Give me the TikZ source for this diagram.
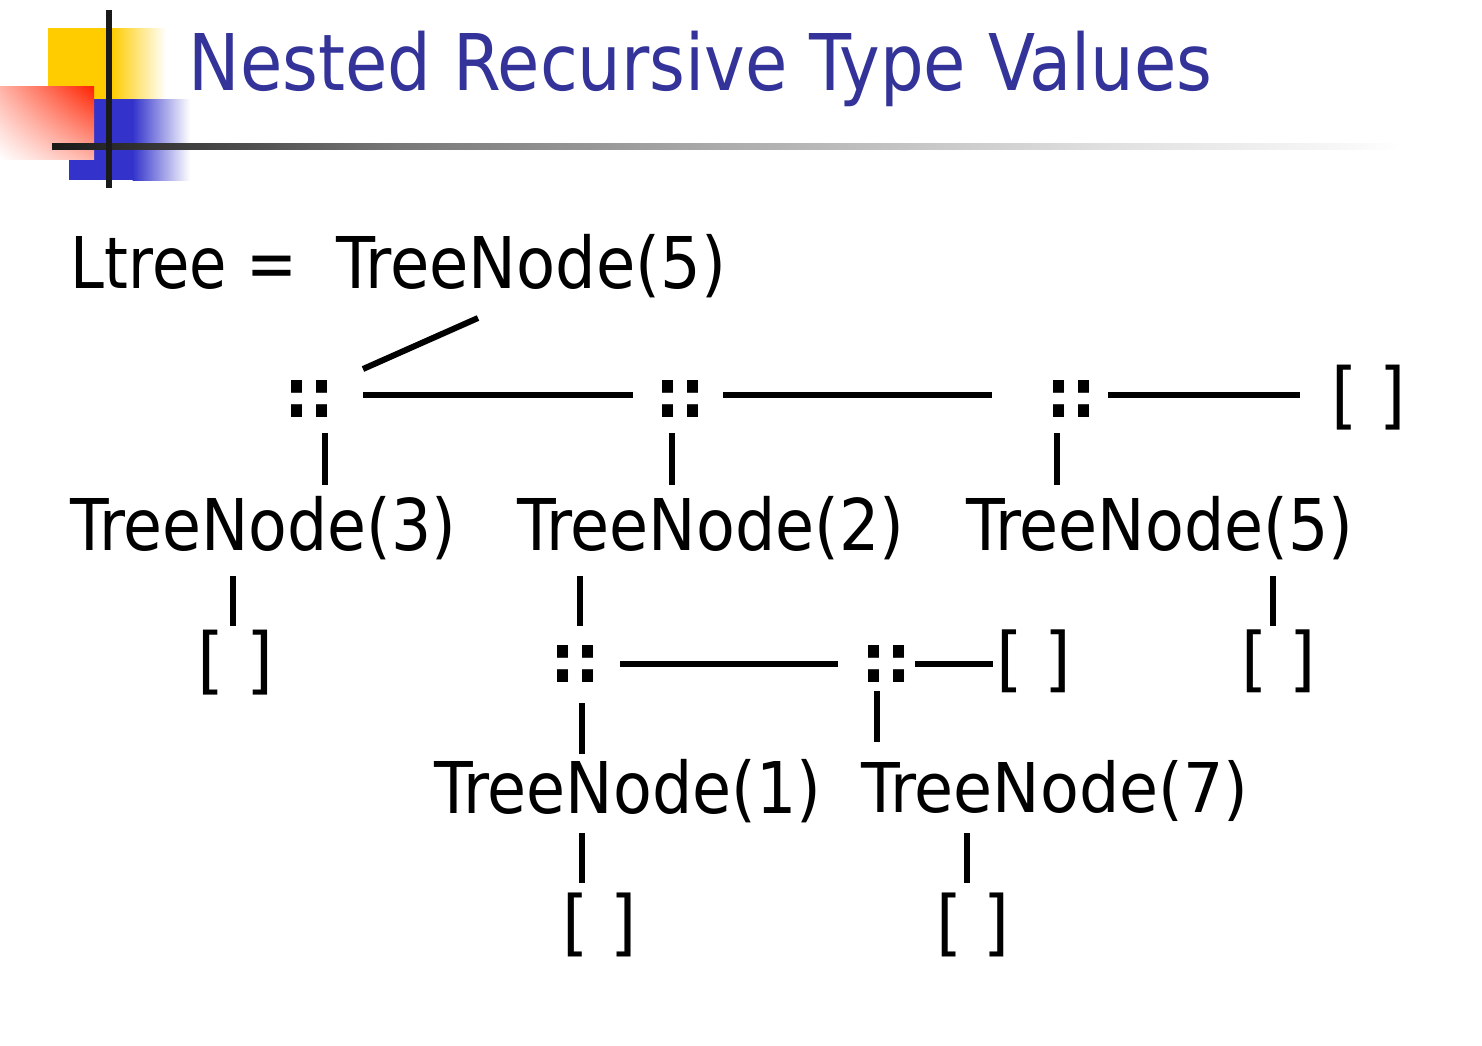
\documentclass[tikz,border=0pt]{standalone}
\usepackage{fontspec}
\usepackage{graphicx}
\usetikzlibrary{shadings}
\setmainfont{DejaVu Sans}
\newfontfamily\cf{DejaVu Sans Condensed}
\definecolor{titleblue}{HTML}{333399}
\definecolor{yelc}{HTML}{FFCC00}
\definecolor{bluc}{HTML}{3333CC}
\definecolor{redc}{HTML}{FF2200}
\definecolor{barc}{HTML}{1A1A1A}
\newcommand{\capbox}[3]{\resizebox{#1pt}{#2pt}{\cf\vphantom{T}\smash{#3}}}
\newcommand{\brk}[2]{\resizebox*{#1pt}{#2pt}{\cf [ ]}}
\newcommand{\dcol}{\resizebox*{50pt}{37pt}{\cf\bfseries ::}}
\pgfdeclarehorizontalshading{rulefade}{100bp}{color(0bp)=(black!90); color(25bp)=(black!90); color(37.9bp)=(black!53); color(49.7bp)=(black!33); color(64.3bp)=(black!12); color(73bp)=(black!3); color(75bp)=(white); color(100bp)=(white)}
\tikzset{
  lbl/.style={inner sep=0pt, outer sep=0pt, anchor=center},
  conn/.style={line width=6pt, black},
}
\begin{document}
\begin{tikzpicture}[x=1pt,y=-1pt]
\useasboundingbox (0,0) rectangle (1482,1045);
\fill[white] (0,0) rectangle (1482,1045);
% decoration
\fill[yelc] (48,28) rectangle (112,99);
\shade[left color=yelc, right color=white] (111.5,28) rectangle (166,99);
\fill[bluc] (69,99) rectangle (133,180);
\shade[left color=bluc, right color=white] (132.5,99) rectangle (190,180);
\shade[upper right=redc, lower left=white, upper left=redc!35, lower right=redc!35] (0,86) rectangle (94,159);
\shade[shading=rulefade] (52,143) rectangle (1400,149);
\fill[barc] (106,10) rectangle (112,188);
% title
\node[lbl, text=titleblue] (title) at (700.5,61.5) {\capbox{1023}{57}{Nested Recursive Type Values}};
% row 1
\node[lbl] (L) at (184,262) {\capbox{226}{52}{Ltree =}};
\node[lbl] (T5a) at (531.5,262) {\capbox{389}{52}{TreeNode(5)}};
% cons cells
\node[lbl] (A) at (309.5,398.5) {\dcol};
\node[lbl] (B) at (680,398.5) {\dcol};
\node[lbl] (C) at (1071,398.5) {\dcol};
\node[lbl] (E0) at (1368.5,397.5) {\brk{74}{65}};
% row 3
\node[lbl] (T3) at (263.5,524) {\capbox{385}{52}{TreeNode(3)}};
\node[lbl] (T2) at (711,524) {\capbox{386}{52}{TreeNode(2)}};
\node[lbl] (T5b) at (1160,524) {\capbox{386}{52}{TreeNode(5)}};
% row 4
\node[lbl] (N3) at (235.5,662.5) {\brk{76}{65}};
\node[lbl] (D) at (575.5,663.5) {\dcol};
\node[lbl] (E) at (886.5,663.5) {\dcol};
\node[lbl] (NE) at (1034,661.5) {\brk{75}{63}};
\node[lbl] (N5) at (1278.5,661.5) {\brk{74}{63}};
% row 5
\node[lbl] (T1) at (628,787) {\capbox{386}{52}{TreeNode(1)}};
\node[lbl] (T7) at (1055,787) {\capbox{386}{50}{TreeNode(7)}};
% row 6
\node[lbl] (N1) at (599.5,925) {\brk{74}{64}};
\node[lbl] (N7) at (973,925) {\brk{73}{64}};
% connectors
\draw[conn] ([shift={(-53.5,56)}]T5a.center) -- ([shift={(53.5,-29.5)}]A.center);
\draw[conn] ([shift={(53.5,-3.5)}]A.center) -- ([shift={(-47,-3.5)}]B.center);
\draw[conn] ([shift={(43,-3.5)}]B.center) -- ([shift={(-79,-3.5)}]C.center);
\draw[conn] ([shift={(37,-3.5)}]C.center) -- ([shift={(-68.5,-2.5)}]E0.center);
\draw[conn] ([shift={(15.5,34.5)}]A.center) -- ([shift={(61.5,-39)}]T3.center);
\draw[conn] ([shift={(-8,34.5)}]B.center) -- ([shift={(-39,-39)}]T2.center);
\draw[conn] ([shift={(-14,34.5)}]C.center) -- ([shift={(-103,-39)}]T5b.center);
\draw[conn] ([shift={(-30.5,52)}]T3.center) -- ([shift={(-2.5,-36.5)}]N3.center);
\draw[conn] ([shift={(-131,52)}]T2.center) -- ([shift={(4.5,-37.5)}]D.center);
\draw[conn] ([shift={(113,52)}]T5b.center) -- ([shift={(-5.5,-35.5)}]N5.center);
\draw[conn] ([shift={(44.5,0.5)}]D.center) -- ([shift={(-48.5,0.5)}]E.center);
\draw[conn] ([shift={(28.5,0.5)}]E.center) -- ([shift={(-41,2.5)}]NE.center);
\draw[conn] ([shift={(6.5,39.5)}]D.center) -- ([shift={(-46,-33)}]T1.center);
\draw[conn] ([shift={(-9.5,27.5)}]E.center) -- ([shift={(-178,-45)}]T7.center);
\draw[conn] ([shift={(-46,46)}]T1.center) -- ([shift={(-17.5,-42)}]N1.center);
\draw[conn] ([shift={(-88,46)}]T7.center) -- ([shift={(-6,-42)}]N7.center);
\end{tikzpicture}
\end{document}
